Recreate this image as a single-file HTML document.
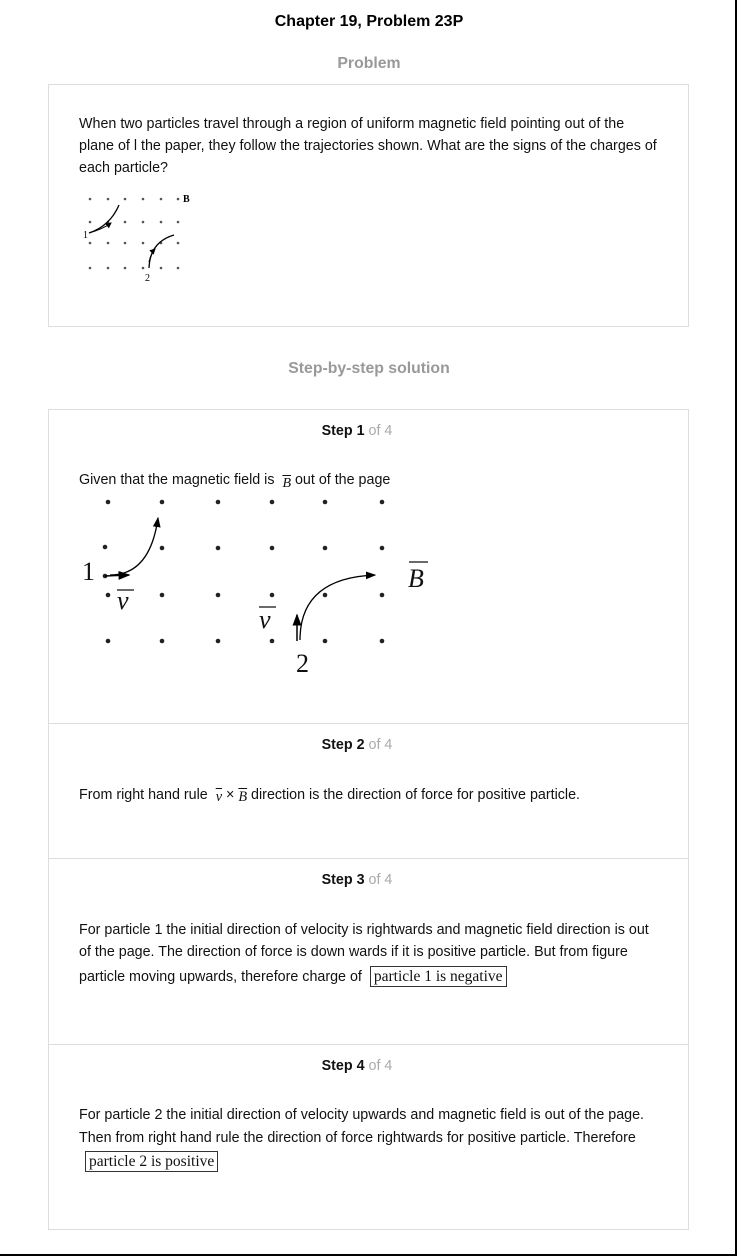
<!DOCTYPE html>
<html><head><meta charset="utf-8"><style>
body{margin:0;width:738px;height:1257px;background:#fff;font-family:"Liberation Sans",Arial,sans-serif;position:relative;overflow:hidden}
.frame{position:absolute;left:-2px;top:-2px;width:739px;height:1258px;border-right:2px solid #000;border-bottom:2px solid #000;box-sizing:border-box}
.t{position:absolute;white-space:nowrap}
.box{position:absolute;left:48px;width:641px;border:1px solid #ddd;box-sizing:border-box}
.p{position:absolute;left:79px;font-size:14.3px;color:#111;white-space:nowrap}
.sh{position:absolute;left:-12px;width:738px;text-align:center;font-size:14.3px;font-weight:bold;color:#111}
.sh span{color:#aaa;font-weight:normal}
.m{font-family:"Liberation Serif",serif;font-style:italic}
.ans{font-family:"Liberation Serif",serif;border:1px solid #333;padding:1px 3px;font-size:15.5px}
</style></head><body>
<div class="frame"></div>
<div class="t" style="left:0;width:738px;text-align:center;top:13px;font-size:16px;font-weight:bold">Chapter 19, Problem 23P</div>
<div class="t" style="left:0;width:738px;text-align:center;top:55px;font-size:15.8px;font-weight:bold;color:#999">Problem</div>
<div class="box" style="top:84px;height:243px"></div>
<div class="p" style="top:116px">When two particles travel through a region of uniform magnetic field pointing out of the</div>
<div class="p" style="top:138px">plane of l the paper, they follow the trajectories shown. What are the signs of the charges of</div>
<div class="p" style="top:160px">each particle?</div>
<svg style="position:absolute;left:0;top:0" width="738" height="330">
<defs><marker id="a" markerWidth="6" markerHeight="6" refX="5" refY="3" orient="auto"><path d="M0,0L6,3L0,6z" fill="#000"/></marker></defs>
<g fill="#555">
<circle cx="90" cy="199" r="1.3"/><circle cx="108" cy="199" r="1.3"/><circle cx="125" cy="199" r="1.3"/><circle cx="143" cy="199" r="1.3"/><circle cx="161" cy="199" r="1.3"/><circle cx="178" cy="199" r="1.3"/>
<circle cx="90" cy="222" r="1.3"/><circle cx="108" cy="222" r="1.3"/><circle cx="125" cy="222" r="1.3"/><circle cx="143" cy="222" r="1.3"/><circle cx="161" cy="222" r="1.3"/><circle cx="178" cy="222" r="1.3"/>
<circle cx="90" cy="243" r="1.3"/><circle cx="108" cy="243" r="1.3"/><circle cx="125" cy="243" r="1.3"/><circle cx="143" cy="243" r="1.3"/><circle cx="161" cy="243" r="1.3"/><circle cx="178" cy="243" r="1.3"/>
<circle cx="90" cy="268" r="1.3"/><circle cx="108" cy="268" r="1.3"/><circle cx="125" cy="268" r="1.3"/><circle cx="143" cy="268" r="1.3"/><circle cx="161" cy="268" r="1.3"/><circle cx="178" cy="268" r="1.3"/>
</g>
<path d="M89,233 Q110,226 119,205" stroke="#000" stroke-width="1.3" fill="none"/>
<path d="M89,233 Q103,229 111,223" stroke="#000" fill="none" marker-end="url(#a)"/>
<path d="M149,268 Q150,242 174,235" stroke="#000" stroke-width="1.3" fill="none"/>
<path d="M149,262 Q151,253 155,249" stroke="#000" fill="none" marker-end="url(#a)"/>
<text x="183" y="202" font-family="Liberation Serif" font-weight="bold" font-size="10">B</text>
<text x="83" y="238" font-family="Liberation Serif" font-size="10">1</text>
<text x="145" y="281" font-family="Liberation Serif" font-size="10">2</text>
</svg>
<div class="t" style="left:0;width:738px;text-align:center;top:360px;font-size:15.8px;font-weight:bold;color:#999">Step-by-step solution</div>
<div class="box" style="top:409px;height:315px"></div>
<div class="box" style="top:723px;height:136px"></div>
<div class="box" style="top:858px;height:187px"></div>
<div class="box" style="top:1044px;height:186px"></div>
<div class="sh" style="top:423px">Step 1 <span>of 4</span></div>
<div class="p" style="top:472px">Given that the magnetic field is &nbsp;<span class="m" style="text-decoration:overline;font-size:14px;position:relative;top:3px">B</span> out of the page</div>
<svg style="position:absolute;left:0;top:0" width="738" height="700">
<defs><marker id="b" markerWidth="8" markerHeight="8" refX="7" refY="4" orient="auto"><path d="M0,1L8,4L0,7z" fill="#000"/></marker></defs>
<g fill="#222">
<circle cx="108" cy="502" r="2.3"/><circle cx="162" cy="502" r="2.3"/><circle cx="218" cy="502" r="2.3"/><circle cx="272" cy="502" r="2.3"/><circle cx="325" cy="502" r="2.3"/><circle cx="382" cy="502" r="2.3"/>
<circle cx="105" cy="547" r="2.3"/><circle cx="162" cy="548" r="2.3"/><circle cx="218" cy="548" r="2.3"/><circle cx="272" cy="548" r="2.3"/><circle cx="325" cy="548" r="2.3"/><circle cx="382" cy="548" r="2.3"/>
<circle cx="105" cy="576" r="2.3"/>
<circle cx="108" cy="595" r="2.3"/><circle cx="162" cy="595" r="2.3"/><circle cx="218" cy="595" r="2.3"/><circle cx="272" cy="595" r="2.3"/><circle cx="325" cy="595" r="2.3"/><circle cx="382" cy="595" r="2.3"/>
<circle cx="108" cy="641" r="2.3"/><circle cx="162" cy="641" r="2.3"/><circle cx="218" cy="641" r="2.3"/><circle cx="272" cy="641" r="2.3"/><circle cx="325" cy="641" r="2.3"/><circle cx="382" cy="641" r="2.3"/>
</g>
<path d="M105,576 L129,575" stroke="#000" stroke-width="1.5" marker-end="url(#b)"/>
<path d="M110,575 Q150,575 158,518" stroke="#000" stroke-width="1.3" fill="none" marker-end="url(#b)"/>
<path d="M297,641 L297,615" stroke="#000" stroke-width="1.5" marker-end="url(#b)"/>
<path d="M300,640 Q300,578 375,575" stroke="#000" stroke-width="1.3" fill="none" marker-end="url(#b)"/>
<g font-family="Liberation Serif" fill="#111">
<text x="82" y="580" font-size="26">1</text>
<text x="296" y="672" font-size="26">2</text>
<text x="117" y="609" font-size="26" font-style="italic">v</text><line x1="117" y1="590" x2="134" y2="590" stroke="#111" stroke-width="1.3"/>
<text x="259" y="628" font-size="26" font-style="italic">v</text><line x1="259" y1="607" x2="276" y2="607" stroke="#111" stroke-width="1.3"/>
<text x="408" y="587" font-size="26" font-style="italic">B</text><line x1="409" y1="562" x2="428" y2="562" stroke="#111" stroke-width="1.3"/>
</g>
</svg>
<div class="sh" style="top:737px">Step 2 <span>of 4</span></div>
<div class="p" style="top:787px">From right hand rule &nbsp;<span class="m" style="text-decoration:overline;position:relative;top:2px">v</span> × <span class="m" style="text-decoration:overline;position:relative;top:2px">B</span> direction is the direction of force for positive particle.</div>
<div class="sh" style="top:872px">Step 3 <span>of 4</span></div>
<div class="p" style="top:922px">For particle 1 the initial direction of velocity is rightwards and magnetic field direction is out</div>
<div class="p" style="top:944px">of the page. The direction of force is down wards if it is positive particle. But from figure</div>
<div class="p" style="top:968px">particle moving upwards, therefore charge of &nbsp;<span class="ans">particle 1 is negative</span></div>
<div class="sh" style="top:1058px">Step 4 <span>of 4</span></div>
<div class="p" style="top:1107px">For particle 2 the initial direction of velocity upwards and magnetic field is out of the page.</div>
<div class="p" style="top:1130px">Then from right hand rule the direction of force rightwards for positive particle. Therefore</div>
<div class="p" style="top:1153px;left:85px"><span class="ans">particle 2 is positive</span></div>
</body></html>
